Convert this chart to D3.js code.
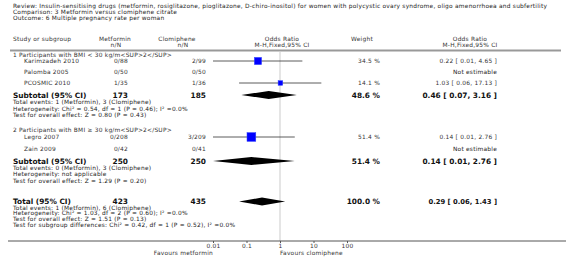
<!DOCTYPE html>
<html>
<head>
<meta charset="utf-8">
<script src="https://cdn.jsdelivr.net/npm/d3@7"></script>
<style>
  body { margin: 0; background: #fff; }
  svg { display: block; font-family: "DejaVu Sans", Verdana, sans-serif; }
</style>
</head>
<body>
<div id="chart"></div>
<script>
// ---- data ----
const titleLines = [
  'Review:  Insulin-sensitising drugs (metformin, rosiglitazone, pioglitazone, D-chiro-inositol) for women with polycystic ovary syndrome, oligo amenorrhoea and subfertility',
  'Comparison:  3 Metformin versus clomiphene citrate',
  'Outcome:  6 Multiple pregnancy rate per woman'
];

const groupTitles = [
  '1 Participants with BMI < 30 kg/m<SUP>2</SUP>',
  '2 Participants with BMI \u2265 30 kg/m<SUP>2</SUP>'
];

const studyNames  = ['Karimzadeh 2010', 'Palomba 2005', 'PCOSMIC 2010', 'Legro 2007', 'Zain 2009'];
const studyGroup  = [0, 0, 0, 1, 1];
const metformin   = ['0/88', '0/50', '1/35', '0/208', '0/42'];
const clomiphene  = ['2/99', '0/50', '1/36', '3/209', '0/41'];
const studyWeight = [34.5, null, 14.1, 51.4, null];
const studyOR     = [0.22, null, 1.03, 0.14, null];
const studyLow    = [0.01, null, 0.06, 0.01, null];
const studyHigh   = [4.65, null, 17.13, 2.76, null];

const subtotalMetN   = [173, 250];
const subtotalCloN   = [185, 250];
const subtotalWeight = [48.6, 51.4];
const subtotalOR     = [0.46, 0.14];
const subtotalLow    = [0.07, 0.01];
const subtotalHigh   = [3.16, 2.76];
const subtotalNotes  = [
  ['Total events: 1 (Metformin), 3 (Clomiphene)',
   'Heterogeneity: Chi\u00b2 = 0.54, df = 1 (P = 0.46); I\u00b2 =0.0%',
   'Test for overall effect: Z = 0.80 (P = 0.43)'],
  ['Total events: 0 (Metformin), 3 (Clomiphene)',
   'Heterogeneity: not applicable',
   'Test for overall effect: Z = 1.29 (P = 0.20)']
];

const total = { metN: 423, cloN: 435, weight: 100.0, or: 0.29, low: 0.06, high: 1.43 };
const totalNotes = [
  'Total events: 1 (Metformin), 6 (Clomiphene)',
  'Heterogeneity: Chi\u00b2 = 1.03, df = 2 (P = 0.60); I\u00b2 =0.0%',
  'Test for overall effect: Z = 1.51 (P = 0.13)',
  'Test for subgroup differences: Chi\u00b2 = 0.42, df = 1 (P = 0.52), I\u00b2 =0.0%'
];

const axisTicks = [0.01, 0.1, 1, 10, 100];
const favoursLeft = 'Favours metformin';
const favoursRight = 'Favours clomiphene';

// ---- layout ----
const W = 566, H = 260;
const fs = 5.9, fsBold = 7.4, spacing = 0.22;
const col = { study: 13, studyIndent: 24, met: 128, metHead: 115, clo: 206, cloHead: 177,
              orHead: 282, wHead: 362, w: 380, orText: 497, orTextHead: 470 };
const groupY = [
  { head: 55, studies: [61, 72, 83], sub: 95, notes: [102, 108.5, 115] },
  { head: 130, studies: [137, 149], sub: 161, notes: [167.5, 174, 180.5] }
];
const totalY = { row: 201.5, notes: [207.5, 213.3, 219, 224.7] };
const axisY = 241;

const x = d3.scaleLog().domain([0.01, 100]).range([213, 347]);
const boxSize = d3.scaleSqrt().domain([0, 60]).range([0, 9.5]);

const svg = d3.select('#chart').append('svg')
  .attr('width', W).attr('height', H).attr('viewBox', `0 0 ${W} ${H}`);

function txt(xp, yp, s, opts = {}) {
  return svg.append('text')
    .attr('x', xp).attr('y', yp)
    .attr('dy', '0.35em')
    .attr('text-anchor', opts.anchor || 'start')
    .attr('font-size', opts.size || (opts.bold ? fsBold : fs))
    .attr('font-weight', opts.bold ? 'bold' : 'normal')
    .attr('letter-spacing', opts.bold ? 0 : spacing)
    .attr('fill', opts.fill || (opts.bold ? '#111' : '#333'))
    .text(s);
}

// title
titleLines.forEach((t, i) => txt(13, 6 + i * 6, t, { fill: '#222' }));

// headers
txt(col.study, 39, 'Study or subgroup');
txt(col.metHead, 39, 'Metformin', { anchor: 'middle' });
txt(col.metHead + 1, 45, 'n/N', { anchor: 'middle' });
txt(col.cloHead, 39, 'Clomiphene', { anchor: 'middle' });
txt(col.cloHead + 6, 45, 'n/N', { anchor: 'middle' });
txt(col.orHead, 39, 'Odds Ratio', { anchor: 'middle' });
txt(col.orHead, 45, 'M-H,Fixed,95% CI', { anchor: 'middle' });
txt(col.wHead, 39, 'Weight', { anchor: 'middle' });
txt(col.orTextHead, 39, 'Odds Ratio', { anchor: 'middle' });
txt(col.orTextHead, 45, 'M-H,Fixed,95% CI', { anchor: 'middle' });

svg.append('line')
  .attr('x1', 10).attr('x2', 561).attr('y1', 50.5).attr('y2', 50.5)
  .attr('stroke', '#999').attr('stroke-width', 2);

// line of no effect
svg.append('line')
  .attr('x1', x(1)).attr('x2', x(1)).attr('y1', 52).attr('y2', axisY)
  .attr('stroke', '#ddd').attr('stroke-width', 1.5);

const fmt = v => v.toFixed(2);
const ciText = (o, l, h) => `${fmt(o)} [ ${fmt(l)}, ${fmt(h)} ]`;

function diamond(yc, o, l, h) {
  const hh = 4;
  svg.append('path')
    .attr('d', `M${x(l)},${yc} L${x(o)},${yc - hh} L${x(h)},${yc} L${x(o)},${yc + hh} Z`)
    .attr('fill', '#000');
}

groupTitles.forEach((g, gi) => {
  const L = groupY[gi];
  txt(col.study, L.head, g);
  const idx = studyNames.map((_, i) => i).filter(i => studyGroup[i] === gi);
  idx.forEach((i, k) => {
    const yc = L.studies[k];
    txt(col.studyIndent, yc, studyNames[i]);
    txt(col.met, yc, metformin[i], { anchor: 'end' });
    txt(col.clo, yc, clomiphene[i], { anchor: 'end' });
    if (studyOR[i] == null) {
      txt(col.orText, yc, 'Not estimable', { anchor: 'end', fill: '#222' });
      return;
    }
    txt(col.w, yc, studyWeight[i].toFixed(1) + ' %', { anchor: 'end' });
    txt(col.orText, yc, ciText(studyOR[i], studyLow[i], studyHigh[i]), { anchor: 'end' });
    svg.append('line')
      .attr('x1', x(studyLow[i])).attr('x2', x(studyHigh[i]))
      .attr('y1', yc).attr('y2', yc)
      .attr('stroke', '#333').attr('stroke-width', 0.8);
    const s = boxSize(studyWeight[i]);
    svg.append('rect')
      .attr('x', x(studyOR[i]) - s / 2).attr('y', yc - s / 2)
      .attr('width', s).attr('height', s)
      .attr('fill', '#0000ff').attr('stroke', '#3344ff').attr('stroke-width', 0.5);
  });

  txt(col.study, L.sub, 'Subtotal (95% CI)', { bold: true });
  txt(col.met, L.sub, subtotalMetN[gi], { anchor: 'end', bold: true });
  txt(col.clo, L.sub, subtotalCloN[gi], { anchor: 'end', bold: true });
  txt(col.w, L.sub, subtotalWeight[gi].toFixed(1) + ' %', { anchor: 'end', bold: true });
  txt(col.orText, L.sub, ciText(subtotalOR[gi], subtotalLow[gi], subtotalHigh[gi]), { anchor: 'end', bold: true });
  diamond(L.sub, subtotalOR[gi], subtotalLow[gi], subtotalHigh[gi]);
  subtotalNotes[gi].forEach((n, k) => txt(col.study, L.notes[k], n, { fill: '#222' }));
});

// overall total
txt(col.study, totalY.row, 'Total (95% CI)', { bold: true });
txt(col.met, totalY.row, total.metN, { anchor: 'end', bold: true });
txt(col.clo, totalY.row, total.cloN, { anchor: 'end', bold: true });
txt(col.w, totalY.row, total.weight.toFixed(1) + ' %', { anchor: 'end', bold: true });
txt(col.orText, totalY.row, ciText(total.or, total.low, total.high), { anchor: 'end', bold: true, size: 6.8 });
diamond(totalY.row, total.or, total.low, total.high);
totalNotes.forEach((n, k) => txt(col.study, totalY.notes[k], n, { fill: '#222' }));

// axis
svg.append('line')
  .attr('x1', 8).attr('x2', 566).attr('y1', axisY).attr('y2', axisY)
  .attr('stroke', '#555').attr('stroke-width', 1);

const axis = svg.append('g')
  .attr('transform', `translate(0,${axisY})`)
  .call(d3.axisBottom(x).tickValues(axisTicks).tickSize(2).tickPadding(1)
    .tickFormat(d => String(d)));
axis.select('.domain').remove();
axis.selectAll('.tick line').attr('stroke', '#555');
axis.selectAll('text')
  .attr('font-family', '"DejaVu Sans", sans-serif')
  .attr('letter-spacing', spacing)
  .attr('font-size', fs).attr('fill', '#333');

txt(x(0.01), 253, favoursLeft, { anchor: 'end' });
txt(x(1), 253, favoursRight);
</script>
</body>
</html>
